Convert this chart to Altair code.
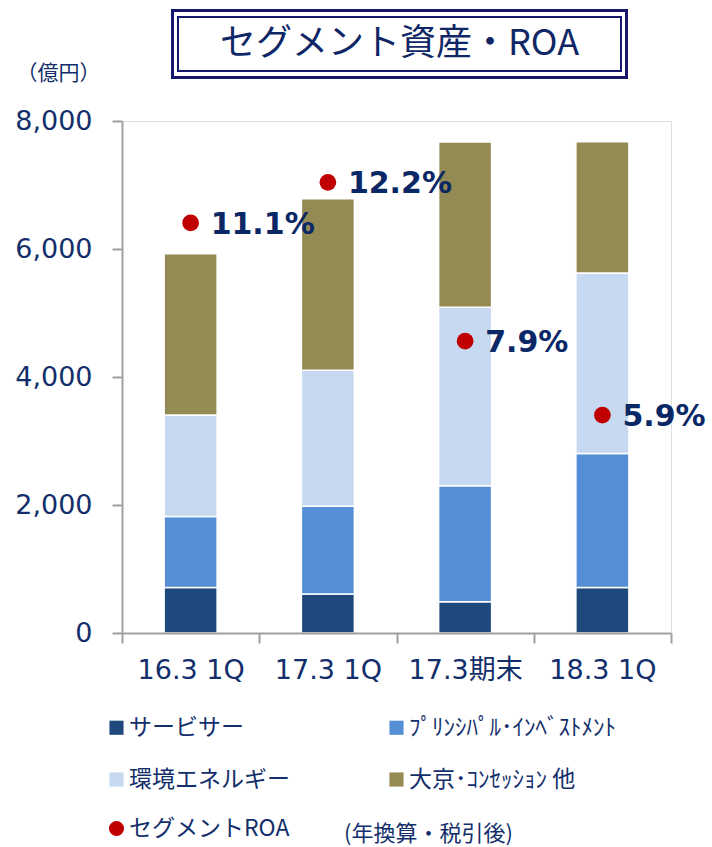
import altair as alt
import pandas as pd

# ---- data ----
periods = ["16.3 1Q", "17.3 1Q", "17.3期末", "18.3 1Q"]
segments = ["サービサー", "ﾌﾟﾘﾝｼﾊﾟﾙ･ｲﾝﾍﾞｽﾄﾒﾝﾄ", "環境エネルギー", "大京･ｺﾝｾｯｼｮﾝ 他"]
servicer = [710, 610, 490, 710]
principal = [1110, 1370, 1810, 2095]
environment = [1585, 2125, 2790, 2820]
daikyo = [2520, 2680, 2580, 2050]
roa = [11.1, 12.2, 7.9, 5.9]
roa_labels = ["11.1%", "12.2%", "7.9%", "5.9%"]
roa_name = "セグメントROA"
y_ticks = [0, 2000, 4000, 6000, 8000]
title_text = "セグメント資産・ROA"
unit_text = "（億円）"
note_text = "(年換算・税引後)"

seg_colors = ["#1F487C", "#558ED5", "#C6D9F1", "#948A54"]
red = "#C00000"
navy = "#132F6B"
label_navy = "#0A2766"
box_navy = "#14176B"
gray = "#A0A0A0"
jp_font = "Noto Sans CJK JP"
num_font = "DejaVu Sans, Noto Sans CJK JP"

W, H = 549, 512

rows = []
for i, p in enumerate(periods):
    for j, (s, vals) in enumerate(zip(segments, [servicer, principal, environment, daikyo])):
        rows.append({"period": p, "segment": s, "value": vals[i], "order": j})
bars_df = pd.DataFrame(rows)

roa_df = pd.DataFrame({"period": periods, "roa": roa, "label": roa_labels,
                       "series": [roa_name] * len(periods)})

deco_df = pd.DataFrame({"k": [0]})

# legend grid is filled column by column: arrange so rows read as in the reference
legend_order = [segments[0], segments[2], segments[1], segments[3]]
legend_colors = [seg_colors[0], seg_colors[2], seg_colors[1], seg_colors[3]]

x_enc = alt.X(
    "period:N", sort=periods,
    scale=alt.Scale(paddingInner=0, paddingOuter=0),
    axis=alt.Axis(title=None, labelAngle=0, tickBand="extent", tickSize=10,
                  labelPadding=14, labelFontSize=27, labelFont=num_font,
                  labelColor=navy, domainColor=gray, tickColor=gray,
                  domainWidth=2, tickWidth=2, zindex=1),
)

bars = alt.Chart(bars_df).mark_bar(width=53, stroke="white", strokeWidth=1.5).encode(
    x=x_enc,
    y=alt.Y("value:Q", stack="zero",
            scale=alt.Scale(domain=[0, 8000], nice=False),
            axis=alt.Axis(values=y_ticks, format=",d", grid=False, tickSize=10,
                          labelPadding=20, labelFontSize=27, labelFont=num_font,
                          labelColor=navy, domainColor=gray, tickColor=gray,
                          domainWidth=2, tickWidth=2,
                          title=unit_text, titleAngle=0, titleX=-64, titleY=-48,
                          titleAlign="center", titleBaseline="middle",
                          titleFont=jp_font, titleFontSize=21,
                          titleFontWeight="normal", titleColor=navy)),
    color=alt.Color("segment:N",
                    scale=alt.Scale(domain=legend_order, range=legend_colors),
                    legend=alt.Legend(orient="none", legendX=-17, legendY=595,
                                      columns=2, title=None, symbolType="square",
                                      symbolSize=200, symbolStrokeWidth=0,
                                      labelFontSize=23, labelFont=jp_font,
                                      labelColor=navy, rowPadding=28,
                                      columnPadding=95, labelOffset=1,
                                      labelLimit=500, padding=0)),
    order=alt.Order("order:Q", sort="ascending"),
)

roa_scale = alt.Scale(domain=[0, 13.86], nice=False, zero=True)

points = alt.Chart(roa_df).mark_circle(size=280, opacity=1).encode(
    x=alt.X("period:N", sort=periods),
    y=alt.Y("roa:Q", scale=roa_scale, axis=None),
    color=alt.Color("series:N",
                    scale=alt.Scale(domain=[roa_name], range=[red]),
                    legend=alt.Legend(orient="none", legendX=-17, legendY=696,
                                      title=None, symbolType="circle",
                                      symbolSize=230, symbolStrokeWidth=0,
                                      labelFontSize=23, labelFont=jp_font,
                                      labelColor=navy, labelOffset=1,
                                      labelLimit=500, padding=0)),
)

labels = alt.Chart(roa_df).mark_text(
    align="left", baseline="middle", dx=20, dy=2, fontSize=30,
    fontWeight="bold", font="DejaVu Sans", color=label_navy,
).encode(
    x=alt.X("period:N", sort=periods),
    y=alt.Y("roa:Q", scale=roa_scale, axis=None),
    text="label:N",
)

outer_box = alt.Chart(deco_df).mark_rect(fill=None, stroke=box_navy, strokeWidth=3).encode(
    x=alt.value(50.5), x2=alt.value(504.5), y=alt.value(-110.5), y2=alt.value(-43.5))
inner_box = alt.Chart(deco_df).mark_rect(fill=None, stroke=box_navy, strokeWidth=2).encode(
    x=alt.value(56), x2=alt.value(499), y=alt.value(-104), y2=alt.value(-50))
title = alt.Chart(deco_df).mark_text(
    align="center", baseline="middle", fontSize=36, font=jp_font, color="#0F2766"
).encode(x=alt.value(277.5), y=alt.value(-77), text=alt.value(title_text))
note = alt.Chart(deco_df).mark_text(
    align="center", baseline="middle", fontSize=22, font=jp_font, color=navy
).encode(x=alt.value(306.5), y=alt.value(713), text=alt.value(note_text))

chart = alt.layer(bars, points, labels, outer_box, inner_box, title, note).resolve_scale(
    y="independent", color="independent"
).properties(
    width=W, height=H,
    autosize=alt.AutoSizeParams(type="none"),
    padding={"left": 122, "top": 121, "right": 41, "bottom": 214},
).configure_view(stroke=None).configure(background="white")

chart.save("out.html", embed_options={"renderer": "svg", "actions": False})
